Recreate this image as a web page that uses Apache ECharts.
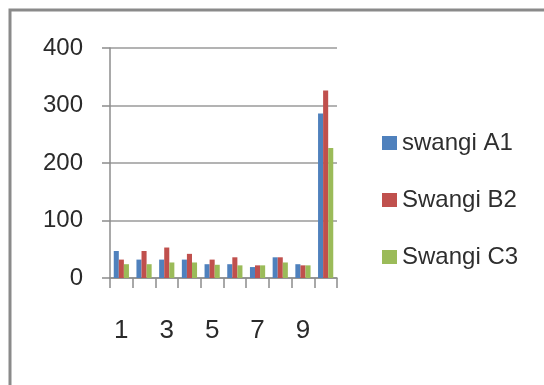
<!DOCTYPE html>
<html>
<head>
<meta charset="utf-8">
<script src="https://cdn.jsdelivr.net/npm/echarts@6/dist/echarts.min.js"></script>
<style>
  html, body { margin: 0; padding: 0; background: #ffffff; }
  #chart { width: 544px; height: 385px; }
</style>
</head>
<body>
<div id="chart"></div>
<script>
// Categories along the x axis
const categories = ['1', '2', '3', '4', '5', '6', '7', '8', '9', '10'];

// Series values
const swangiA1 = [47, 32, 32, 32, 24, 24, 19, 36, 24, 286];
const swangiB2 = [32, 47, 53, 42, 32, 36, 22, 36, 22, 326];
const swangiC3 = [24, 24, 27, 27, 23, 22, 22, 27, 22, 226];

// Series names shown in the legend
const seriesNames = ['swangi A1', 'Swangi B2', 'Swangi C3'];

// Value axis range
const yMin = 0, yMax = 400, yStep = 100;

const colors = ['#4F81BD', '#C0504D', '#9BBB59'];
const fontFamily = '"Liberation Sans", Arial, sans-serif';

const chart = echarts.init(document.getElementById('chart'), null, { renderer: 'canvas' });

function barSeries(name, data) {
  return {
    name: name,
    type: 'bar',
    data: data,
    barGap: '0%',
    barCategoryGap: '33%'
  };
}

chart.setOption({
  animation: false,
  color: colors,
  graphic: [{
    type: 'rect',
    shape: { x: 10, y: 10, width: 600, height: 420 },
    style: { fill: 'none', stroke: '#8a8a8a', lineWidth: 3 },
    silent: true
  }],
  grid: { left: 110, right: 207, top: 48, bottom: 107, containLabel: false },
  legend: {
    orient: 'vertical',
    left: 377,
    top: 125,
    itemWidth: 15,
    itemHeight: 14,
    itemGap: 31,
    icon: 'rect',
    textStyle: { fontFamily: fontFamily, fontSize: 24, lineHeight: 26, color: '#2e2e2e' },
    data: seriesNames
  },
  xAxis: {
    type: 'category',
    data: categories,
    boundaryGap: true,
    axisLine: { lineStyle: { color: '#8c8c8c', width: 1.5 } },
    axisTick: { show: true, alignWithLabel: false, interval: 0, length: 10, lineStyle: { color: '#8c8c8c', width: 1.5 } },
    axisLabel: {
      interval: 1,
      margin: 53,
      verticalAlign: 'middle',
      fontFamily: fontFamily,
      fontSize: 26,
      color: '#2a2a2a'
    },
    splitLine: { show: false }
  },
  yAxis: {
    type: 'value',
    min: yMin,
    max: yMax,
    interval: yStep,
    axisLine: { show: true, lineStyle: { color: '#8c8c8c', width: 1.5 } },
    axisTick: { show: true, inside: false, length: 8, lineStyle: { color: '#8c8c8c', width: 1.5 } },
    axisLabel: {
      margin: 27,
      fontFamily: fontFamily,
      fontSize: 24,
      color: '#2a2a2a'
    },
    splitLine: { show: true, lineStyle: { color: '#9a9a9a', width: 1.5 } }
  },
  series: [
    barSeries(seriesNames[0], swangiA1),
    barSeries(seriesNames[1], swangiB2),
    barSeries(seriesNames[2], swangiC3)
  ]
});
</script>
</body>
</html>
